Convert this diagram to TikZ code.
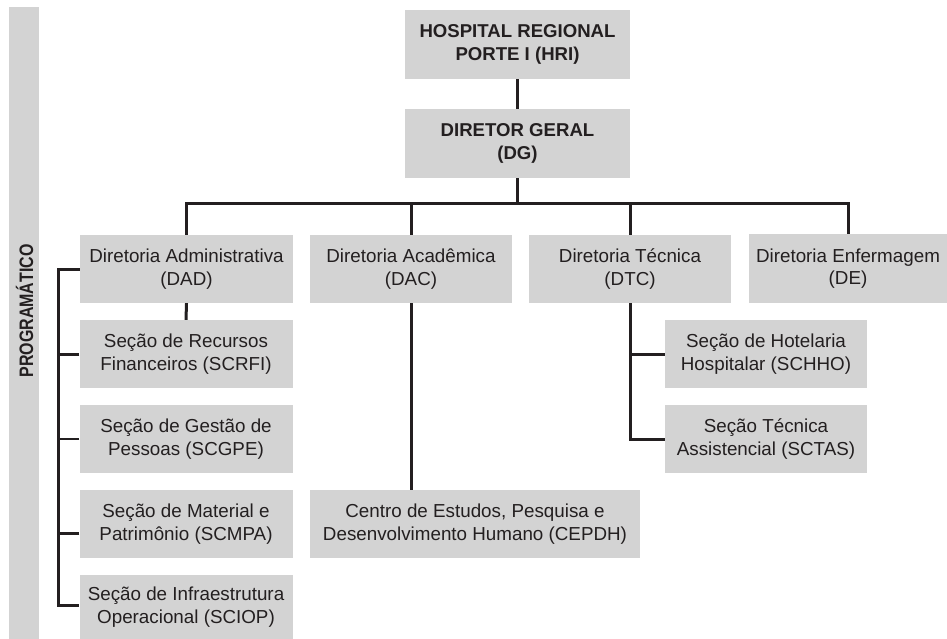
\documentclass[tikz,border=0pt]{standalone}
\usepackage{fontspec}
\setmainfont{Liberation Sans}
\newfontfamily\progfont[FakeStretch=0.82]{Liberation Sans}
\definecolor{boxgray}{RGB}{211,211,211}
\definecolor{ink}{RGB}{35,31,32}
\begin{document}
\begin{tikzpicture}[x=1pt,y=-1pt,
  box/.style={fill=boxgray,inner sep=0pt,align=center,text=ink,
    font=\fontsize{18.8}{22.5}\selectfont},
  boldbox/.style={box,font=\fontsize{18.6}{22.5}\selectfont\bfseries},
  conn/.style={draw=ink,line width=3pt},
  thinconn/.style={draw=ink,line width=1.2pt}]
\useasboundingbox (0,0) rectangle (947,639);
% left bar
\fill[boxgray] (9,7) rectangle (39,639);
\node[rotate=90,text=ink,font=\progfont\fontsize{19.5}{22}\selectfont\bfseries] (prog) at (24.5,311) {PROGRAMÁTICO};
% boxes
\node[boldbox,minimum width=225,minimum height=69] (hri) at (517.5,44.5) {HOSPITAL REGIONAL\\PORTE I (HRI)};
\node[boldbox,minimum width=225,minimum height=69] (dg) at (517.5,143.5) {DIRETOR GERAL\\(DG)};
\node[box,minimum width=213,minimum height=68] (dad) at (186.5,269) {Diretoria Administrativa\\(DAD)};
\node[box,minimum width=202,minimum height=68] (dac) at (411,269) {Diretoria Acadêmica\\(DAC)};
\node[box,minimum width=202,minimum height=68] (dtc) at (630,269) {Diretoria Técnica\\(DTC)};
\node[box,minimum width=198,minimum height=69] (de) at (848,268.5) {Diretoria Enfermagem\\(DE)};
\node[box,minimum width=213,minimum height=68] (scrfi) at (186,354) {Seção de Recursos\\Financeiros (SCRFI)};
\node[box,minimum width=213,minimum height=68] (scgpe) at (186,439) {Seção de Gestão de\\Pessoas (SCGPE)};
\node[box,minimum width=213,minimum height=68] (scmpa) at (186,524) {Seção de Material e\\Patrimônio (SCMPA)};
\node[box,minimum width=213,minimum height=64] (sciop) at (186,607) {Seção de Infraestrutura\\Operacional (SCIOP)};
\node[box,minimum width=202,minimum height=68] (schho) at (766,354) {Seção de Hotelaria\\Hospitalar (SCHHO)};
\node[box,minimum width=202,minimum height=68] (sctas) at (766,439) {Seção Técnica\\Assistencial (SCTAS)};
\node[box,minimum width=330,minimum height=68] (cepdh) at (475,524) {Centro de Estudos, Pesquisa e\\Desenvolvimento Humano (CEPDH)};
% connectors
\draw[conn] (hri.south) -- (dg.north);
\coordinate (bus) at (517.5,203);
\draw[conn] (dg.south) -- (bus);
\draw[conn] (dad.north) |- (bus) -| (de.north);
\draw[conn] (dac.north) -- (dac.north|-bus);
\draw[conn] (dtc.north) -- (dtc.north|-bus);
\draw[conn] (dad.south) -- (scrfi.north);
\draw[conn] (dac.south) -- (cepdh.north-|dac.south);
% left bracket
\coordinate (lx) at (58,0);
\draw[conn] (dad.west) -- (dad.west-|lx) -- ([yshift=2]sciop.west-|lx) -- ([yshift=2]sciop.west);
\draw[conn] (scrfi.west) -- (scrfi.west-|lx);
\draw[thinconn] (scgpe.west) -- (scgpe.west-|lx);
\draw[conn] ([yshift=-9]scmpa.west) -- ([yshift=-9]scmpa.west-|lx);
% DTC bracket
\draw[conn] (dtc.south) |- (sctas.west);
\draw[conn] (schho.west) -- (schho.west-|dtc.south);
\end{tikzpicture}
\end{document}
